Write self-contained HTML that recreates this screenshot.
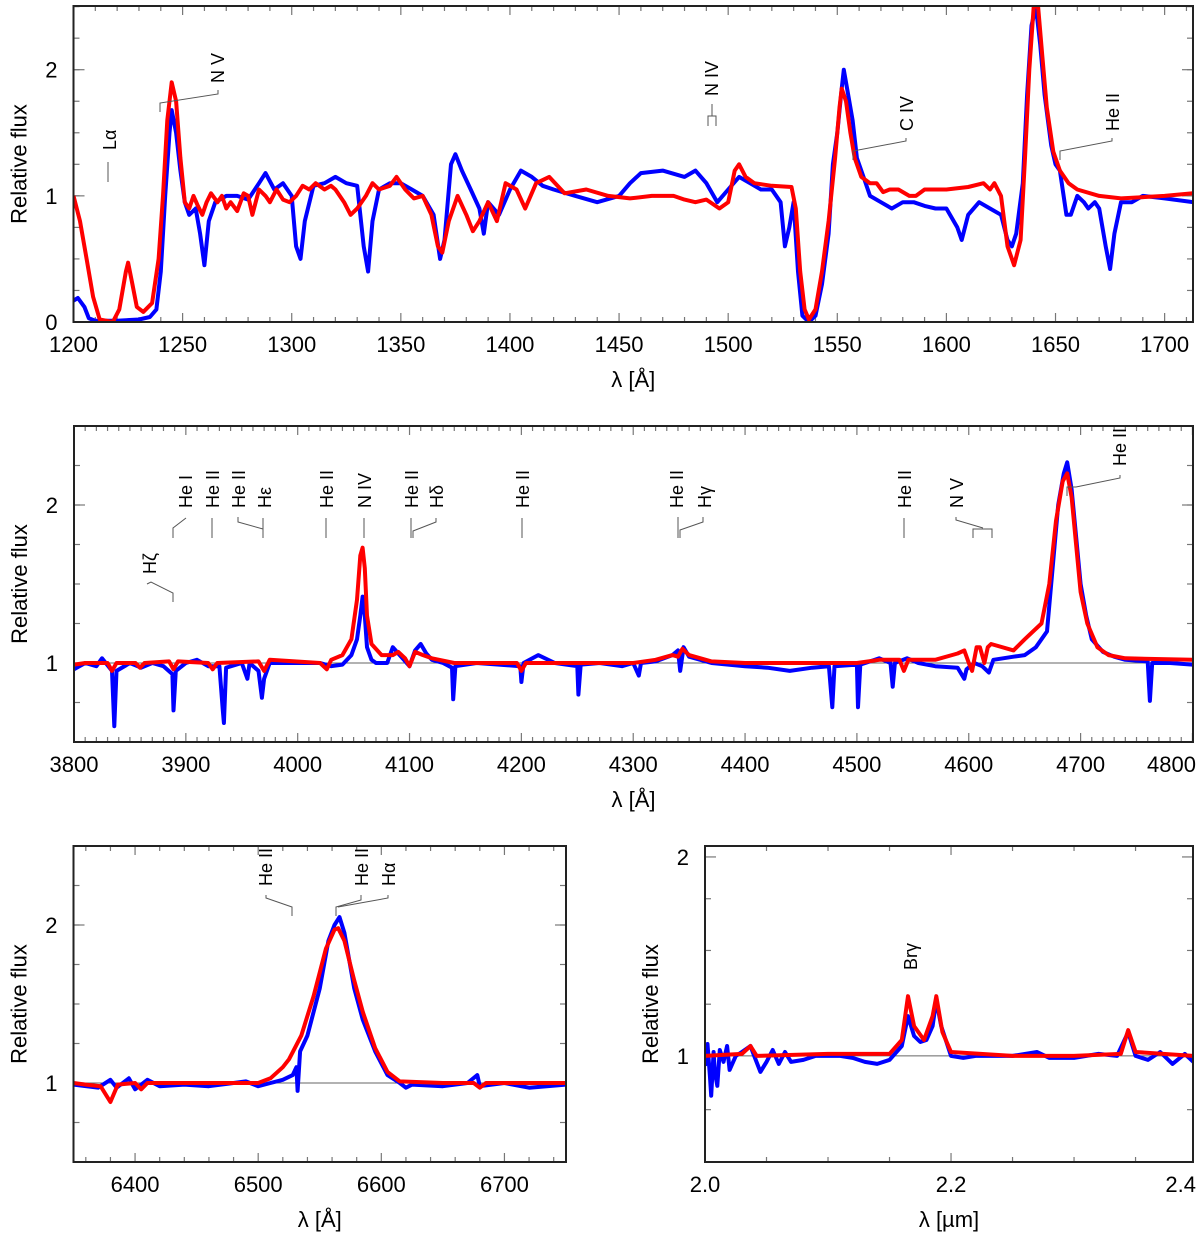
<!DOCTYPE html>
<html><head><meta charset="utf-8"><title>Spectrum fit</title>
<style>
html,body{margin:0;padding:0;background:#fff;}
svg{display:block;font-family:"Liberation Sans",sans-serif;}
.tl{font-size:22px;fill:#000;}
.ax{font-size:22px;fill:#000;}
.ln{font-size:18px;fill:#000;}
.ld{fill:none;stroke:#555;stroke-width:1;}
</style></head><body>
<svg id="fig" width="1200" height="1238" viewBox="0 0 1200 1238" xmlns="http://www.w3.org/2000/svg">
<g id="layer"></g>
<g>
 <text class="ln" transform="translate(116,150) rotate(-90)">Lα</text>
 <path class="ld" d="M108,162 V182"/>
 <text class="ln" transform="translate(224,83) rotate(-90)">N V</text>
 <path class="ld" d="M160,112 V103 L218,94 V90"/>
 <text class="ln" transform="translate(718,96) rotate(-90)">N IV</text>
 <path class="ld" d="M712,104 V116 M708,126 V116 H716 V126"/>
 <text class="ln" transform="translate(913,131) rotate(-90)">C IV</text>
 <path class="ld" d="M853,160 V151 L906,141 V138"/>
 <text class="ln" transform="translate(1119,131) rotate(-90)">He II</text>
 <path class="ld" d="M1060,160 V151 L1112,141 V138"/>
 <text class="ln" transform="translate(192,508) rotate(-90)">He I</text>
 <path class="ld" d="M173,538 V528 L186,518"/>
 <text class="ln" transform="translate(219,508) rotate(-90)">He II</text>
 <path class="ld" d="M212,518 V538"/>
 <text class="ln" transform="translate(245,508) rotate(-90)">He II</text>
 <path class="ld" d="M238,517 V522 L263,529 V538"/>
 <text class="ln" transform="translate(271,508) rotate(-90)">Hε</text>
 <path class="ld" d="M263,518 V529"/>
 <text class="ln" transform="translate(333,508) rotate(-90)">He II</text>
 <path class="ld" d="M326,518 V538"/>
 <text class="ln" transform="translate(371,508) rotate(-90)">N IV</text>
 <path class="ld" d="M364,518 V538"/>
 <text class="ln" transform="translate(418,508) rotate(-90)">He II</text>
 <path class="ld" d="M411,518 V538"/>
 <text class="ln" transform="translate(443,508) rotate(-90)">Hδ</text>
 <path class="ld" d="M436,518 V522 L413,531 V538"/>
 <text class="ln" transform="translate(529,508) rotate(-90)">He II</text>
 <path class="ld" d="M522,518 V538"/>
 <text class="ln" transform="translate(683,508) rotate(-90)">He II</text>
 <path class="ld" d="M678,517 V538"/>
 <text class="ln" transform="translate(711,508) rotate(-90)">Hγ</text>
 <path class="ld" d="M703,517 V522 L680,530 V538"/>
 <text class="ln" transform="translate(911,508) rotate(-90)">He II</text>
 <path class="ld" d="M904,518 V538"/>
 <text class="ln" transform="translate(963,508) rotate(-90)">N V</text>
 <path class="ld" d="M956,517 V520 L983,528 M973,538 V529 H992 V538"/>
 <text class="ln" transform="translate(1126,466) rotate(-90)">He II</text>
 <path class="ld" d="M1120,475 V478 L1076,487 H1067 V496"/>
 <text class="ln" transform="translate(156,574) rotate(-90)">Hζ</text>
 <path class="ld" d="M147,584 L151,582 L173,593 V602"/>
 <text class="ln" transform="translate(272,886) rotate(-90)">He II</text>
 <path class="ld" d="M266,895 V898 L292,907 V916"/>
 <text class="ln" transform="translate(368,886) rotate(-90)">He II</text>
 <path class="ld" d="M361,895 V900 L336,907 V916"/>
 <text class="ln" transform="translate(395,886) rotate(-90)">Hα</text>
 <path class="ld" d="M388,895 V898 L338,907"/>
 <text class="ln" transform="translate(917,970) rotate(-90)">Brγ</text>
</g>
</svg>
<script>
// ---------- Panel 1 (UV) data ----------
const p1ObsWave = [1200,1202,1205,1207,1210,1220,1230,1235,1238,1240,1242,1244,1245,1247,1249,1251,1253,1256,1258,1260,1262,1265,1270,1275,1280,1285,1288,1292,1296,1300,1302,1304,1306,1310,1315,1320,1325,1330,1333,1335,1337,1340,1345,1350,1355,1360,1365,1368,1370,1373,1375,1378,1382,1386,1388,1390,1395,1400,1405,1410,1415,1420,1430,1440,1450,1455,1460,1470,1480,1485,1490,1495,1500,1505,1510,1515,1520,1524,1526,1528,1530,1532,1534,1537,1540,1543,1546,1548,1550,1552,1553,1555,1557,1559,1562,1565,1570,1575,1580,1585,1590,1595,1600,1605,1607,1610,1615,1620,1625,1628,1630,1632,1635,1637,1639,1641,1643,1645,1648,1650,1652,1655,1657,1660,1663,1665,1668,1670,1673,1675,1677,1680,1685,1690,1700,1713];
const p1ObsFlux = [0.17,0.19,0.12,0.03,0.01,0.01,0.02,0.04,0.1,0.4,1.0,1.5,1.68,1.5,1.2,0.95,0.85,0.9,0.7,0.45,0.8,0.95,1.0,1.0,0.97,1.1,1.18,1.05,1.1,1.0,0.6,0.5,0.8,1.08,1.1,1.15,1.1,1.08,0.6,0.4,0.8,1.05,1.1,1.1,1.05,1.0,0.85,0.5,0.65,1.25,1.33,1.2,1.05,0.9,0.7,0.95,0.85,1.05,1.2,1.15,1.08,1.05,1.0,0.95,1.0,1.1,1.18,1.2,1.15,1.2,1.1,0.95,1.05,1.15,1.1,1.05,1.05,0.95,0.6,0.75,0.95,0.4,0.05,0.0,0.05,0.3,0.7,1.25,1.5,1.85,2.0,1.8,1.6,1.3,1.15,1.0,0.95,0.9,0.95,0.95,0.92,0.9,0.9,0.75,0.65,0.85,0.95,0.9,0.85,0.65,0.6,0.7,1.1,1.8,2.35,2.5,2.2,1.8,1.4,1.25,1.2,0.85,0.85,1.0,0.95,0.9,0.95,0.9,0.6,0.42,0.7,0.95,0.95,1.0,0.98,0.95];
const p1ModWave = [1200,1203,1206,1209,1212,1218,1221,1224,1225,1227,1229,1232,1236,1239,1241,1243,1245,1247,1249,1251,1253,1255,1257,1259,1261,1263,1266,1268,1270,1272,1275,1278,1280,1282,1285,1288,1290,1293,1296,1299,1302,1305,1308,1311,1315,1318,1320,1324,1327,1330,1334,1337,1340,1345,1348,1352,1356,1360,1364,1367,1369,1372,1376,1380,1383,1386,1390,1394,1398,1403,1407,1412,1418,1425,1435,1445,1455,1465,1475,1480,1485,1490,1496,1500,1503,1505,1508,1512,1520,1529,1531,1533,1535,1537,1540,1543,1546,1549,1551,1552,1554,1556,1558,1561,1565,1568,1571,1574,1578,1583,1586,1590,1600,1610,1617,1620,1622,1625,1628,1631,1634,1636,1638,1640,1642,1644,1646,1649,1652,1656,1660,1670,1680,1700,1713];
const p1ModFlux = [1.0,0.8,0.5,0.2,0.02,0.0,0.1,0.4,0.47,0.3,0.12,0.08,0.15,0.5,1.0,1.6,1.9,1.75,1.3,0.95,0.9,1.0,0.92,0.85,0.95,1.02,0.95,1.0,0.9,0.95,0.88,1.02,1.0,0.85,1.05,1.0,0.95,1.05,0.97,0.95,1.0,1.08,1.05,1.1,1.05,1.08,1.05,0.95,0.85,0.9,1.0,1.1,1.05,1.08,1.15,1.05,0.98,1.0,0.85,0.6,0.55,0.8,1.0,0.85,0.72,0.8,0.95,0.8,1.1,1.05,0.9,1.1,1.15,1.02,1.05,1.0,0.98,1.0,1.0,0.97,0.95,0.97,0.9,0.95,1.2,1.25,1.15,1.1,1.08,1.07,0.9,0.4,0.1,0.02,0.1,0.4,0.8,1.3,1.7,1.85,1.75,1.5,1.3,1.15,1.1,1.1,1.03,1.05,1.05,1.0,1.0,1.05,1.05,1.07,1.1,1.05,1.1,1.0,0.6,0.45,0.65,1.3,2.0,2.5,2.5,2.1,1.7,1.35,1.2,1.1,1.05,1.0,0.98,1.0,1.02];
const p1XTicks = [1200,1250,1300,1350,1400,1450,1500,1550,1600,1650,1700];
const p1YTicks = [0,1,2];

// ---------- Panel 2 (optical blue) data ----------
const p2ObsWave = [3800,3810,3820,3825,3834,3836,3838,3850,3860,3870,3880,3888,3889,3891,3900,3910,3920,3930,3933,3934,3936,3950,3955,3957,3965,3968,3970,3975,3990,4000,4020,4030,4040,4048,4053,4056,4058,4060,4062,4066,4070,4080,4085,4090,4095,4100,4105,4110,4115,4120,4130,4138,4139,4141,4160,4180,4199,4200,4202,4215,4230,4250,4251,4253,4270,4290,4300,4305,4307,4320,4335,4340,4342,4345,4350,4370,4400,4420,4440,4460,4475,4478,4480,4500,4501,4503,4520,4530,4532,4534,4545,4555,4570,4590,4596,4598,4605,4612,4618,4622,4640,4650,4660,4670,4675,4680,4685,4688,4692,4696,4700,4705,4710,4720,4730,4740,4760,4762,4764,4780,4800];
const p2ObsFlux = [0.96,1.0,0.98,1.03,0.95,0.6,0.95,1.0,0.97,1.0,0.98,0.93,0.7,0.95,1.0,1.02,0.98,0.98,0.7,0.62,0.97,1.0,0.9,1.0,0.95,0.78,0.9,1.0,1.0,1.0,1.0,0.98,0.99,1.05,1.15,1.3,1.42,1.3,1.1,1.02,1.0,1.0,1.1,1.06,1.02,0.98,1.08,1.12,1.06,1.02,1.0,0.97,0.77,0.98,1.0,0.99,0.98,0.88,1.0,1.05,1.0,0.98,0.8,0.99,1.0,0.98,1.0,0.92,1.0,1.01,1.05,1.08,0.95,1.1,1.04,1.0,0.98,0.97,0.95,0.97,0.98,0.72,0.98,0.99,0.72,0.99,1.03,1.0,0.85,1.0,1.03,1.0,0.98,0.97,0.9,0.96,1.0,0.98,0.94,1.02,1.04,1.05,1.1,1.2,1.6,2.0,2.2,2.27,2.1,1.8,1.5,1.3,1.15,1.07,1.04,1.02,1.01,0.76,1.0,1.0,0.99];
const p2ModWave = [3800,3810,3830,3834,3838,3855,3859,3863,3885,3889,3893,3920,3924,3928,3965,3970,3975,4020,4026,4030,4040,4048,4053,4056,4058,4060,4062,4066,4075,4085,4090,4096,4100,4105,4112,4120,4140,4196,4200,4204,4300,4320,4335,4340,4344,4350,4370,4400,4500,4520,4538,4542,4546,4570,4590,4596,4600,4603,4607,4610,4614,4617,4620,4640,4650,4665,4672,4678,4684,4688,4692,4696,4700,4706,4715,4725,4740,4800];
const p2ModFlux = [0.99,1.0,1.0,0.95,1.0,1.0,0.97,1.0,1.01,0.96,1.01,1.0,0.96,1.0,1.01,0.95,1.02,1.0,0.96,1.02,1.05,1.15,1.4,1.68,1.73,1.6,1.3,1.12,1.05,1.05,1.07,1.03,0.98,1.07,1.05,1.03,1.0,1.0,0.95,1.0,1.0,1.02,1.05,1.04,1.09,1.05,1.01,1.0,1.0,1.02,1.02,0.95,1.02,1.02,1.06,1.08,1.0,0.95,1.1,1.1,1.0,1.1,1.12,1.08,1.15,1.25,1.5,1.9,2.15,2.2,2.05,1.75,1.45,1.25,1.1,1.05,1.03,1.02];
const p2XTicks = [3800,3900,4000,4100,4200,4300,4400,4500,4600,4700,4800];
const p2YTicks = [1,2];

// ---------- Panel 3 (H-alpha) data ----------
const p3ObsWave = [6350,6360,6370,6380,6385,6395,6400,6410,6420,6440,6460,6480,6490,6500,6510,6520,6528,6531,6532,6534,6540,6550,6557,6562,6566,6570,6578,6585,6595,6605,6615,6620,6625,6650,6670,6678,6680,6700,6720,6750];
const p3ObsFlux = [0.99,0.98,0.97,1.02,0.97,1.03,0.96,1.02,0.98,0.99,0.98,1.0,1.01,0.98,1.0,1.02,1.05,1.1,0.95,1.2,1.3,1.6,1.9,2.0,2.05,1.95,1.6,1.4,1.2,1.05,1.0,0.97,0.99,0.98,1.0,1.05,0.98,1.0,0.97,0.99];
const p3ModWave = [6350,6360,6372,6380,6386,6400,6405,6410,6480,6500,6510,6520,6525,6535,6545,6555,6562,6565,6570,6578,6585,6595,6605,6615,6650,6675,6680,6685,6750];
const p3ModFlux = [1.0,0.99,0.98,0.88,0.99,1.0,0.96,1.0,1.0,1.0,1.03,1.1,1.15,1.3,1.55,1.85,1.97,1.98,1.9,1.65,1.45,1.22,1.07,1.01,1.0,1.0,0.97,1.0,1.0];
const p3XTicks = [6400,6500,6600,6700];
const p3YTicks = [1,2];

// ---------- Panel 4 (K band) data ----------
const p4ObsWave = [2.0,2.002,2.004,2.005,2.007,2.008,2.01,2.012,2.015,2.018,2.02,2.025,2.03,2.037,2.04,2.045,2.05,2.055,2.06,2.065,2.07,2.08,2.09,2.1,2.11,2.12,2.13,2.14,2.15,2.16,2.165,2.17,2.175,2.18,2.185,2.188,2.192,2.2,2.21,2.22,2.25,2.27,2.28,2.3,2.32,2.335,2.344,2.35,2.36,2.37,2.38,2.39,2.397];
const p4ObsFlux = [0.95,1.06,0.9,0.8,1.02,0.92,0.85,1.03,0.97,1.05,0.93,1.0,1.02,1.05,1.0,0.92,0.97,1.03,0.96,1.02,0.97,0.98,1.0,1.0,1.0,0.99,0.97,0.96,0.98,1.05,1.2,1.1,1.07,1.08,1.15,1.28,1.15,1.0,0.99,1.0,1.0,1.02,0.99,0.99,1.01,1.0,1.12,1.0,0.98,1.02,0.96,1.01,0.97];
const p4ModWave = [2.0,2.03,2.037,2.042,2.1,2.15,2.16,2.165,2.17,2.178,2.185,2.188,2.193,2.2,2.25,2.3,2.338,2.344,2.35,2.397];
const p4ModFlux = [1.0,1.01,1.05,1.0,1.01,1.01,1.08,1.3,1.15,1.08,1.2,1.3,1.12,1.02,1.0,1.0,1.01,1.13,1.02,1.0];
const p4XTicks = [2.0,2.2,2.4];
const p4XTickText = ["2.0","2.2","2.4"];
const p4YTicks = [1,2];
const p4YMinor = [0.73,1.26,1.53,1.79];

const NS = "http://www.w3.org/2000/svg";
const layer = document.getElementById('layer');
function mk(tag, attrs, parent){
  const e = document.createElementNS(NS, tag);
  for (const k in attrs) e.setAttribute(k, attrs[k]);
  (parent||layer).appendChild(e);
  return e;
}
function makePanel(cfg){
  const g = mk('g', {});
  
  
  const sx = v => cfg.x0 + (v - cfg.xd[0]) / (cfg.xd[1] - cfg.xd[0]) * (cfg.x1 - cfg.x0);
  const sy = v => cfg.y1 - (v - cfg.yd[0]) / (cfg.yd[1] - cfg.yd[0]) * (cfg.y1 - cfg.y0);
  const clipId = cfg.name + '-clip';
  const defs = mk('defs', {}, g);
  const cp = mk('clipPath', {id: clipId}, defs);
  mk('rect', {x: cfg.x0, y: cfg.y0, width: cfg.x1 - cfg.x0, height: cfg.y1 - cfg.y0}, cp);
  const tg = mk('g', {stroke: '#777', 'stroke-width': 1.2}, g);
  for (let v = cfg.xMinorStart; v <= cfg.xd[1] + 1e-9; v += cfg.xMinor) {
    const x = sx(v); if (x < cfg.x0 - 0.5 || x > cfg.x1 + 0.5) continue;
    const major = cfg.xTicks.some(t => Math.abs(t - v) < cfg.xMinor * 0.01);
    const L = major ? 9 : 5;
    mk('line', {x1: x, x2: x, y1: cfg.y1, y2: cfg.y1 - L}, tg);
    mk('line', {x1: x, x2: x, y1: cfg.y0, y2: cfg.y0 + L}, tg);
  }
  const yMinor = cfg.yMinorList || [];
  if (!cfg.yMinorList) for (let v = cfg.yd[0]; v <= cfg.yd[1] + 1e-9; v += 0.25) yMinor.push(v);
  yMinor.forEach(v => {
    const y = sy(v); if (y < cfg.y0 || y > cfg.y1) return;
    mk('line', {x1: cfg.x0, x2: cfg.x0 + 6, y1: y, y2: y}, tg);
    mk('line', {x1: cfg.x1, x2: cfg.x1 - 6, y1: y, y2: y}, tg);
  });
  cfg.yTicks.forEach(v => {
    const y = sy(v);
    mk('line', {x1: cfg.x0, x2: cfg.x0 + 11, y1: y, y2: y}, tg);
    mk('line', {x1: cfg.x1, x2: cfg.x1 - 11, y1: y, y2: y}, tg);
  });
  if (cfg.refLine) mk('line', {x1: cfg.x0, x2: cfg.x1, y1: sy(1), y2: sy(1), stroke: '#666', 'stroke-width': 1}, g);
  const obs = mk('polyline', {points: cfg.obsW.map((w, i) => sx(w).toFixed(1) + ',' + sy(cfg.obsF[i]).toFixed(1)).join(' '), fill: 'none', stroke: '#0000ff', 'stroke-width': 4, 'stroke-linejoin': 'round', 'clip-path': 'url(#' + clipId + ')'}, g);
  
  
  const mod = mk('polyline', {points: cfg.modW.map((w, i) => sx(w).toFixed(1) + ',' + sy(cfg.modF[i]).toFixed(1)).join(' '), fill: 'none', stroke: '#ff0000', 'stroke-width': 4, 'stroke-linejoin': 'round', 'clip-path': 'url(#' + clipId + ')'}, g);
  
  
  const fr = mk('rect', {x: cfg.x0, y: cfg.y0, width: cfg.x1 - cfg.x0, height: cfg.y1 - cfg.y0, fill: 'none', stroke: '#222', 'stroke-width': 2}, g);
  
  
  cfg.xTicks.forEach((v, i) => {
    let x = sx(v), anchor = 'middle';
    if (x > cfg.x1 - 20) { x = cfg.x1 + 3; anchor = 'end'; }
    const t = mk('text', {x: x, y: cfg.y1 + 30, 'text-anchor': anchor, class: 'tl'}, g);
    t.textContent = cfg.xTickText ? cfg.xTickText[i] : String(v);
    
    
  });
  cfg.yTicks.forEach(v => {
    const t = mk('text', {x: cfg.x0 - 16, y: sy(v) + 8, 'text-anchor': 'end', class: 'tl'}, g);
    t.textContent = String(v);
    
    
  });
  const xt = mk('text', {x: (cfg.x0 + cfg.x1) / 2, y: cfg.y1 + 65, 'text-anchor': 'middle', class: 'ax'}, g);
  xt.textContent = cfg.xTitle;
  
  
  const yt = mk('text', {transform: 'translate(' + (cfg.x0 - 47) + ',' + ((cfg.y0 + cfg.y1) / 2) + ') rotate(-90)', 'text-anchor': 'middle', class: 'ax'}, g);
  yt.textContent = 'Relative flux';
  
  
}
makePanel({name: 'uv-panel', x0: 73.5, x1: 1193, y0: 6, y1: 322, xd: [1200, 1713], yd: [0, 2.505], xTicks: p1XTicks, yTicks: p1YTicks, xMinor: 10, xMinorStart: 1200, obsW: p1ObsWave, obsF: p1ObsFlux, modW: p1ModWave, modF: p1ModFlux, xTitle: 'λ [Å]', refLine: false});
makePanel({name: 'optical-panel', x0: 74, x1: 1193, y0: 426, y1: 742, xd: [3800, 4800.5], yd: [0.5, 2.5], xTicks: p2XTicks, yTicks: p2YTicks, xMinor: 10, xMinorStart: 3800, obsW: p2ObsWave, obsF: p2ObsFlux, modW: p2ModWave, modF: p2ModFlux, xTitle: 'λ [Å]', refLine: true});
makePanel({name: 'halpha-panel', x0: 73.5, x1: 566, y0: 846, y1: 1162, xd: [6350, 6750], yd: [0.5, 2.5], xTicks: p3XTicks, yTicks: p3YTicks, xMinor: 20, xMinorStart: 6360, obsW: p3ObsWave, obsF: p3ObsFlux, modW: p3ModWave, modF: p3ModFlux, xTitle: 'λ [Å]', refLine: true});
makePanel({name: 'kband-panel', x0: 705, x1: 1193, y0: 846, y1: 1162, xd: [2.0, 2.3967], yd: [0.467, 2.055], xTicks: p4XTicks, xTickText: p4XTickText, yTicks: p4YTicks, yMinorList: p4YMinor, xMinor: 0.05, xMinorStart: 2.0, obsW: p4ObsWave, obsF: p4ObsFlux, modW: p4ModWave, modF: p4ModFlux, xTitle: 'λ [µm]', refLine: true});
</script>
</body></html>
